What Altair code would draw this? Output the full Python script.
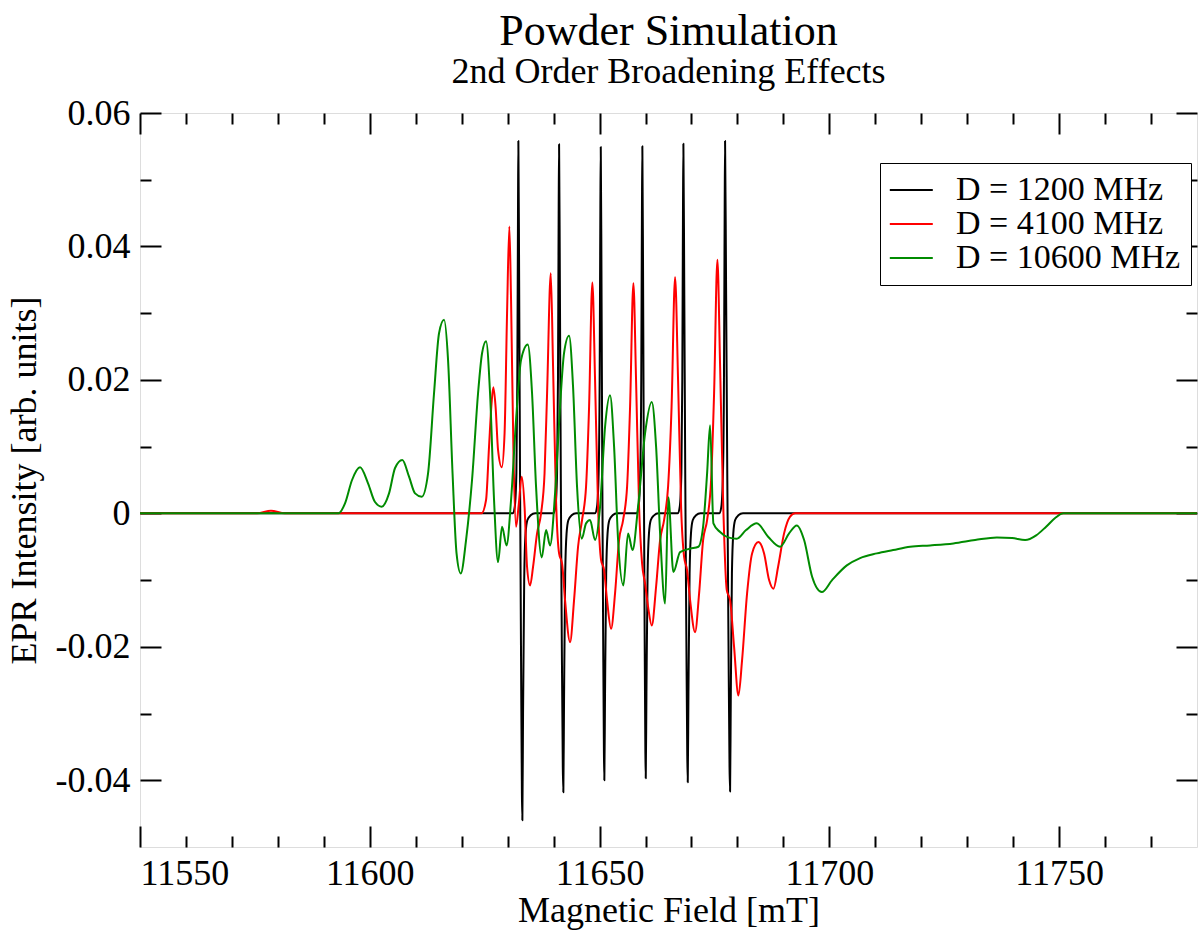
import altair as alt
import pandas as pd

FONT = "Liberation Serif"
SERIES = ["D = 1200 MHz", "D = 4100 MHz", "D = 10600 MHz"]
COLORS = ["#000000", "#ff0000", "#008b00"]
WIDTHS = [2.0, 2.0, 3.0]

# ---- D = 1200 MHz (black) ----
black_x = [11550.00,
    11631.10, 11631.55, 11631.90, 11632.10, 11632.25, 11632.33, 11632.50, 11632.70, 11632.90, 11633.10, 11633.20, 11633.35, 11633.60, 11633.90, 11634.30, 11635.00, 11636.00,
    11639.95, 11640.40, 11640.75, 11640.95, 11641.10, 11641.19, 11641.36, 11641.57, 11641.78, 11642.00, 11642.12, 11642.27, 11642.52, 11642.82, 11643.22, 11643.92, 11644.90,
    11649.00, 11649.45, 11649.80, 11650.02, 11650.17, 11650.26, 11650.42, 11650.60, 11650.78, 11650.95, 11651.04, 11651.19, 11651.44, 11651.74, 11652.14, 11652.84, 11653.80,
    11658.05, 11658.50, 11658.85, 11659.07, 11659.22, 11659.31, 11659.47, 11659.64, 11659.81, 11659.97, 11660.05, 11660.20, 11660.45, 11660.75, 11661.15, 11661.85, 11662.80,
    11667.00, 11667.45, 11667.80, 11668.00, 11668.15, 11668.24, 11668.42, 11668.65, 11668.88, 11669.08, 11669.19, 11669.34, 11669.59, 11669.89, 11670.29, 11670.99, 11671.95,
    11676.05, 11676.50, 11676.85, 11677.07, 11677.22, 11677.31, 11677.52, 11677.80, 11678.05, 11678.28, 11678.40, 11678.55, 11678.80, 11679.10, 11679.50, 11680.20, 11681.20,
    11780.00]
black_y = [0.0,
    0.0, 0.0010, 0.0060, 0.0200, 0.0450, 0.0558, 0.0350, 0.0050, -0.0200, -0.0420, -0.0460, -0.0300, -0.0100, -0.0030, -0.0010, -0.0003, 0.0,
    0.0, 0.0010, 0.0060, 0.0200, 0.0450, 0.0553, 0.0350, 0.0050, -0.0190, -0.0380, -0.0418, -0.0280, -0.0090, -0.0030, -0.0010, -0.0003, 0.0,
    0.0, 0.0010, 0.0060, 0.0200, 0.0450, 0.0549, 0.0350, 0.0050, -0.0180, -0.0360, -0.0400, -0.0270, -0.0090, -0.0030, -0.0010, -0.0003, 0.0,
    0.0, 0.0010, 0.0060, 0.0200, 0.0450, 0.0550, 0.0350, 0.0050, -0.0180, -0.0360, -0.0397, -0.0270, -0.0090, -0.0030, -0.0010, -0.0003, 0.0,
    0.0, 0.0010, 0.0060, 0.0200, 0.0450, 0.0554, 0.0350, 0.0050, -0.0180, -0.0360, -0.0403, -0.0270, -0.0090, -0.0030, -0.0010, -0.0003, 0.0,
    0.0, 0.0010, 0.0060, 0.0200, 0.0450, 0.0558, 0.0350, 0.0050, -0.0190, -0.0380, -0.0417, -0.0280, -0.0090, -0.0030, -0.0010, -0.0003, 0.0,
    0.0]

# ---- D = 4100 MHz (red) ----
red_x = [11550.00, 11575.50, 11578.50, 11581.50,
    11624.30, 11625.30, 11625.95, 11626.50, 11626.89, 11627.37, 11627.91, 11628.72, 11629.33, 11629.87, 11630.37,
    11630.74, 11631.29, 11631.83, 11632.37, 11633.07, 11633.68, 11634.22, 11634.88, 11635.53, 11636.40, 11637.27,
    11638.03, 11638.58, 11639.38, 11639.88, 11640.53, 11641.19, 11641.84, 11642.49, 11643.58, 11644.45, 11645.32,
    11646.19, 11647.06, 11647.72, 11648.43, 11649.02, 11649.67, 11650.33, 11650.98, 11651.63, 11652.50, 11653.37,
    11654.24, 11655.12, 11655.99, 11656.64, 11657.36, 11657.94, 11658.60, 11659.25, 11659.90, 11660.56, 11661.36,
    11662.30, 11663.17, 11664.04, 11664.91, 11665.67, 11666.43, 11667.08, 11667.74, 11668.39, 11669.04, 11669.70,
    11670.78, 11671.66, 11672.53, 11673.40, 11674.27, 11674.92, 11675.64, 11676.23, 11676.88, 11677.68, 11678.40,
    11679.27, 11680.21, 11681.01, 11682.10, 11683.19, 11684.56, 11685.80, 11686.89, 11687.83, 11688.85, 11690.15,
    11691.46, 11692.55, 11780.00]
red_y = [0.0, 0.0, 0.0004, 0.0,
    0.0, 0.0020, 0.0100, 0.0165, 0.0189, 0.0160, 0.0095, 0.0069, 0.0120, 0.0300, 0.0430,
    0.0320, 0.0080, -0.0020, 0.0010, 0.0055, 0.0010, -0.0080, -0.0108, -0.0080, -0.0030, 0.0000,
    0.0060, 0.0180, 0.0360, 0.0220, 0.0020, -0.0060, -0.0075, -0.0130, -0.0193, -0.0130, -0.0050,
    -0.0010, 0.0040, 0.0160, 0.0346, 0.0200, 0.0010, -0.0070, -0.0085, -0.0130, -0.0173, -0.0120,
    -0.0040, -0.0010, 0.0040, 0.0160, 0.0345, 0.0200, 0.0010, -0.0075, -0.0105, -0.0140, -0.0168,
    -0.0110, -0.0040, -0.0010, 0.0040, 0.0160, 0.0354, 0.0200, 0.0010, -0.0065, -0.0085, -0.0130,
    -0.0178, -0.0120, -0.0040, -0.0010, 0.0050, 0.0180, 0.0380, 0.0220, 0.0020, -0.0115, -0.0130,
    -0.0200, -0.0273, -0.0220, -0.0120, -0.0060, -0.0043, -0.0060, -0.0100, -0.0113, -0.0080, -0.0030,
    -0.0005, 0.0, 0.0]

# ---- D = 10600 MHz (green) ----
green_x = [11550.00, 11593.16, 11594.61, 11596.14, 11597.88, 11599.62, 11601.14, 11602.60, 11604.19, 11605.50,
    11607.08, 11608.54, 11609.85, 11611.31, 11612.68, 11613.98, 11615.07, 11616.16, 11617.03, 11618.01,
    11618.88, 11619.79, 11620.95, 11622.25, 11623.56, 11624.43, 11625.30, 11626.17, 11627.04, 11627.91,
    11628.78, 11629.76, 11630.74, 11631.83, 11632.92, 11634.37, 11635.31, 11636.18, 11637.42, 11638.36,
    11639.23, 11640.32, 11641.40, 11642.27, 11643.36, 11644.23, 11645.10, 11646.13, 11647.06, 11647.93,
    11649.02, 11650.11, 11651.20, 11652.28, 11653.16, 11654.03, 11655.18, 11656.20, 11657.18, 11658.38,
    11659.90, 11661.36, 11662.30, 11663.17, 11664.26, 11664.97, 11666.06, 11667.52, 11669.70, 11671.50,
    11672.53, 11673.40, 11674.05, 11674.77, 11676.23, 11677.97, 11679.86, 11681.88, 11684.21, 11686.67,
    11689.28, 11691.24, 11692.92, 11694.51, 11696.25, 11698.36, 11700.60, 11703.80, 11706.69, 11710.33,
    11713.88, 11717.58, 11721.93, 11727.00, 11731.72, 11736.44, 11739.77, 11742.60, 11745.00, 11747.17,
    11749.13, 11750.94, 11780.00]
green_y = [0.0, 0.0, 0.0015, 0.0050, 0.0069, 0.0045, 0.0017, 0.0010, 0.0030, 0.0068,
    0.0080, 0.0055, 0.0030, 0.0025, 0.0060, 0.0180, 0.0270, 0.0290, 0.0230, 0.0060,
    -0.0060, -0.0090, -0.0040, 0.0050, 0.0180, 0.0240, 0.0258, 0.0180, 0.0020, -0.0073,
    -0.0020, -0.0048, 0.0020, 0.0140, 0.0230, 0.0253, 0.0180, 0.0040, -0.0066, -0.0025,
    -0.0048, 0.0030, 0.0160, 0.0240, 0.0266, 0.0190, 0.0040, -0.0038, -0.0015, -0.0010,
    -0.0040, 0.0010, 0.0130, 0.0177, 0.0100, -0.0040, -0.0108, -0.0030, -0.0055, 0.0010,
    0.0120, 0.0167, 0.0100, -0.0030, -0.0135, 0.0024, -0.0088, -0.0058, -0.0053, -0.0050,
    -0.0020, 0.0060, 0.0132, -0.0015, -0.0028, -0.0036, -0.0038, -0.0025, -0.0015, -0.0035,
    -0.0050, -0.0030, -0.0018, -0.0040, -0.0095, -0.0118, -0.0100, -0.0078, -0.0067, -0.0060,
    -0.0055, -0.0050, -0.0048, -0.0045, -0.0040, -0.0036, -0.0037, -0.0040, -0.0033, -0.0020,
    -0.0007, 0.0, 0.0]

X_MAJOR = [11550, 11600, 11650, 11700, 11750]
X_MINOR = [11560, 11570, 11580, 11590, 11610, 11620, 11630, 11640, 11660, 11670, 11680, 11690,
           11710, 11720, 11730, 11740, 11760, 11770]
Y_MAJOR = [-0.04, -0.02, 0.0, 0.02, 0.04, 0.06]
Y_MINOR = [-0.03, -0.01, 0.01, 0.03, 0.05]

frames = []
for name, xs, ys in [(SERIES[0], black_x, black_y), (SERIES[1], red_x, red_y), (SERIES[2], green_x, green_y)]:
    frames.append(pd.DataFrame({"field": xs, "intensity": ys, "series": name}))
df = pd.concat(frames, ignore_index=True)

xscale = alt.Scale(domain=[11550, 11780], nice=False, zero=False)
yscale = alt.Scale(domain=[-0.05, 0.06], nice=False, zero=False)

MAJ = 21
MIN = 11


def tick_axis(orient, values, size):
    return alt.Axis(orient=orient, values=values, tickSize=size, offset=-size, tickWidth=2,
                    tickColor="black", domain=False, labels=False, grid=False, title=None)


lines = alt.Chart(df).mark_line(clip=True, strokeJoin="round", interpolate="monotone").encode(
    x=alt.X("field:Q", scale=xscale,
            axis=alt.Axis(orient="bottom", values=X_MAJOR, format="d", tickSize=MAJ, offset=-MAJ,
                          tickWidth=2, tickColor="black", domain=False, grid=False,
                          labelFont=FONT, labelFontSize=36, labelColor="black", labelPadding=9,
                          title="Magnetic Field [mT]", titleFont=FONT, titleFontSize=36,
                          titleFontWeight="normal", titleColor="black", titlePadding=2)),
    y=alt.Y("intensity:Q", scale=yscale,
            axis=alt.Axis(orient="left", values=Y_MAJOR, tickSize=MAJ, offset=-MAJ,
                          tickWidth=2, tickColor="black", domain=False, grid=False,
                          labelExpr="datum.value == 0 ? '0' : replace(format(datum.value, '.2f'), '\u2212', '-')",
                          labelFont=FONT, labelFontSize=36, labelColor="black", labelPadding=10,
                          title="EPR Intensity [arb. units]", titleFont=FONT, titleFontSize=36,
                          titleFontWeight="normal", titleColor="black", titlePadding=12)),
    color=alt.Color("series:N", scale=alt.Scale(domain=SERIES, range=COLORS),
                    legend=alt.Legend(title=None, orient="none", legendX=740, legendY=50,
                                      symbolType="M-1.6,0H2.4", symbolSize=462, symbolStrokeWidth=2,
                                      labelFont=FONT, labelFontSize=34, labelColor="black",
                                      labelLimit=500, labelOffset=32, rowPadding=0, padding=10,
                                      strokeColor="black", fillColor="white", cornerRadius=0)),
    strokeWidth=alt.StrokeWidth("series:N", scale=alt.Scale(domain=SERIES, range=WIDTHS), legend=None),
)

ghost = alt.Chart(df).mark_point(opacity=0)
minor_bl = ghost.encode(x=alt.X("field:Q", scale=xscale, axis=tick_axis("bottom", X_MINOR, MIN)),
                        y=alt.Y("intensity:Q", scale=yscale, axis=tick_axis("left", Y_MINOR, MIN)))
major_tr = ghost.encode(x=alt.X("field:Q", scale=xscale, axis=tick_axis("top", X_MAJOR, MAJ)),
                        y=alt.Y("intensity:Q", scale=yscale, axis=tick_axis("right", Y_MAJOR, MAJ)))
minor_tr = ghost.encode(x=alt.X("field:Q", scale=xscale, axis=tick_axis("top", X_MINOR, MIN)),
                        y=alt.Y("intensity:Q", scale=yscale, axis=tick_axis("right", Y_MINOR, MIN)))

chart = alt.layer(lines, minor_bl, major_tr, minor_tr).resolve_axis(
    x="independent", y="independent"
).properties(
    width=1057, height=734,
    autosize=alt.AutoSizeParams(type="none"),
    padding={"left": 140, "top": 113, "right": 1, "bottom": 83},
    title=alt.TitleParams(text="Powder Simulation", subtitle="2nd Order Broadening Effects",
                          font=FONT, fontSize=44, fontWeight="normal", color="black",
                          subtitleFont=FONT, subtitleFontSize=36, subtitleColor="black",
                          subtitlePadding=1, anchor="middle", offset=5),
).configure_view(stroke="black", strokeWidth=2).configure_legend(strokeWidth=2).configure(background="white")

chart.save("out.html", embed_options={"renderer": "svg", "actions": False})
